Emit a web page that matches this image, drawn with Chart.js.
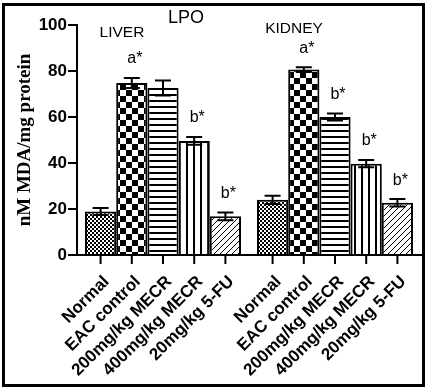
<!DOCTYPE html>
<html>
<head>
<meta charset="utf-8">
<script src="https://cdn.jsdelivr.net/npm/chart.js@4.4.0/dist/chart.umd.min.js"></script>
<style>
  html, body { margin: 0; padding: 0; background: #fff; }
  #wrap { width: 427px; height: 389px; }
</style>
</head>
<body>
<div id="wrap"><canvas id="lpo"></canvas></div>
<script>
var organs = ['LIVER', 'KIDNEY'];
var groups = ['Normal', 'EAC control', '200mg/kg MECR', '400mg/kg MECR', '20mg/kg 5-FU'];
// values per group: [liver, kidney]
var normalVals = [18.9, 24.0];
var eacVals = [74.8, 80.6];
var mecr200Vals = [72.6, 60.0];
var mecr400Vals = [49.6, 39.7];
var fuVals = [16.8, 22.7];
var normalErr = [1.5, 1.8];
var eacErr = [2.2, 1.0];
var mecr200Err = [3.3, 1.5];
var mecr400Err = [1.7, 1.6];
var fuErr = [1.7, 1.6];
var normalSig = ['', ''];
var eacSig = ['a*', 'a*'];
var mecr200Sig = ['', 'b*'];
var mecr400Sig = ['b*', 'b*'];
var fuSig = ['b*', 'b*'];
var yTicks = [0, 20, 40, 60, 80, 100];

function makePattern(size, draw) {
    var c = document.createElement('canvas');
    c.width = size; c.height = size;
    var g = c.getContext('2d');
    g.fillStyle = '#fff';
    g.fillRect(0, 0, size, size);
    g.fillStyle = '#000';
    g.strokeStyle = '#000';
    draw(g, size);
    return document.createElement('canvas').getContext('2d').createPattern(c, 'repeat');
}

var fineChecker = makePattern(4, function (g) {
    g.fillRect(0, 0, 2, 2); g.fillRect(2, 2, 2, 2);
});
var bigChecker = makePattern(12, function (g) {
    g.fillRect(0, 0, 6, 6); g.fillRect(6, 6, 6, 6);
});
var hStripes = makePattern(6, function (g) {
    g.fillRect(0, 4, 6, 2);
});
var vStripes = makePattern(7, function (g) {
    g.fillRect(4, 0, 2, 7);
});
var diagonal = makePattern(6, function (g, s) {
    g.lineWidth = 1;
    g.beginPath();
    g.moveTo(0, s); g.lineTo(s, 0);
    g.moveTo(-1, 1); g.lineTo(1, -1);
    g.moveTo(s - 1, s + 1); g.lineTo(s + 1, s - 1);
    g.stroke();
});

var sets = [
    { label: groups[0], data: normalVals, err: normalErr, sig: normalSig, backgroundColor: fineChecker },
    { label: groups[1], data: eacVals, err: eacErr, sig: eacSig, backgroundColor: bigChecker },
    { label: groups[2], data: mecr200Vals, err: mecr200Err, sig: mecr200Sig, backgroundColor: hStripes },
    { label: groups[3], data: mecr400Vals, err: mecr400Err, sig: mecr400Sig, backgroundColor: vStripes },
    { label: groups[4], data: fuVals, err: fuErr, sig: fuSig, backgroundColor: diagonal }
];
sets.forEach(function (s) {
    s.borderColor = '#000';
    s.borderWidth = 2;
    s.barPercentage = 1;
    s.categoryPercentage = 0.907;
});

var sans = "'Liberation Sans', Arial, sans-serif";

var extras = {
    id: 'extras',
    beforeDraw: function (chart) {
        var c = chart.ctx;
        c.save();
        c.fillStyle = '#fff';
        c.fillRect(0, 0, chart.width, chart.height);
        c.restore();
    },
    afterDatasetsDraw: function (chart) {
        var c = chart.ctx, y = chart.scales.y;
        c.save();
        c.strokeStyle = '#000';
        c.lineWidth = 2;
        chart.data.datasets.forEach(function (ds, i) {
            chart.getDatasetMeta(i).data.forEach(function (bar, j) {
                var top = y.getPixelForValue(ds.data[j] + ds.err[j]);
                var bot = y.getPixelForValue(ds.data[j] - ds.err[j]);
                c.beginPath();
                c.moveTo(bar.x, bot); c.lineTo(bar.x, top);
                c.moveTo(bar.x - 8, top); c.lineTo(bar.x + 8, top);
                c.moveTo(bar.x - 8, bot); c.lineTo(bar.x + 8, bot);
                c.stroke();
                if (ds.sig[j]) {
                    c.fillStyle = '#000';
                    c.font = '16px ' + sans;
                    c.textAlign = 'center';
                    c.textBaseline = 'middle';
                    c.fillText(ds.sig[j], bar.x + 3, top - 19);
                }
            });
        });
        c.restore();
    },
    afterDraw: function (chart) {
        var c = chart.ctx, x = chart.scales.x, area = chart.chartArea;
        c.save();
        c.fillStyle = '#000';
        c.strokeStyle = '#000';
        // x tick marks and rotated labels
        chart.data.datasets.forEach(function (ds, i) {
            chart.getDatasetMeta(i).data.forEach(function (bar) {
                c.lineWidth = 2;
                c.beginPath();
                c.moveTo(bar.x, area.bottom); c.lineTo(bar.x, area.bottom + 9);
                c.stroke();
                c.save();
                c.translate(bar.x + 6, area.bottom + 24);
                c.rotate(-Math.PI / 4);
                c.font = 'bold 17px ' + sans;
                c.textAlign = 'right';
                c.textBaseline = 'middle';
                c.fillText(ds.label, 0, 0);
                c.restore();
            });
        });
        // organ labels
        var organY = [33, 29];
        c.font = '15.5px ' + sans;
        c.textAlign = 'center';
        c.textBaseline = 'middle';
        organs.forEach(function (o, k) {
            c.fillText(o, x.getPixelForValue(k) - 41, organY[k]);
        });
        // title
        c.font = '18px ' + sans;
        c.fillText('LPO', 186, 18);
        // frame
        c.lineWidth = 3;
        c.strokeRect(3.5, 4.5, 420, 381);
        c.restore();
    }
};

new Chart(document.getElementById('lpo'), {
    type: 'bar',
    data: { labels: organs, datasets: sets },
    options: {
        responsive: true,
        maintainAspectRatio: false,
        animation: false,
        layout: { padding: { left: 0, top: 25, right: 6, bottom: 0 } },
        plugins: { legend: { display: false }, tooltip: { enabled: false } },
        scales: {
            x: {
                ticks: { display: false },
                grid: { display: false },
                border: { color: '#000', width: 2 },
                afterFit: function (s) { s.height = 134; }
            },
            y: {
                min: 0,
                max: 100,
                afterBuildTicks: function (s) { s.ticks = yTicks.map(function (v) { return { value: v }; }); },
                ticks: { color: '#000', padding: 1, font: { family: sans, weight: 'bold', size: 17 } },
                grid: { drawOnChartArea: false, color: '#000', lineWidth: 2, tickLength: 9 },
                border: { color: '#000', width: 2 },
                title: {
                    display: true,
                    text: 'nM MDA/mg protein',
                    color: '#000',
                    padding: { top: 14 },
                    font: { family: "'Liberation Serif', 'Times New Roman', serif", weight: 'bold', size: 19 }
                },
                afterFit: function (s) { s.width = 77; }
            }
        }
    },
    plugins: [extras]
});
</script>
</body>
</html>
